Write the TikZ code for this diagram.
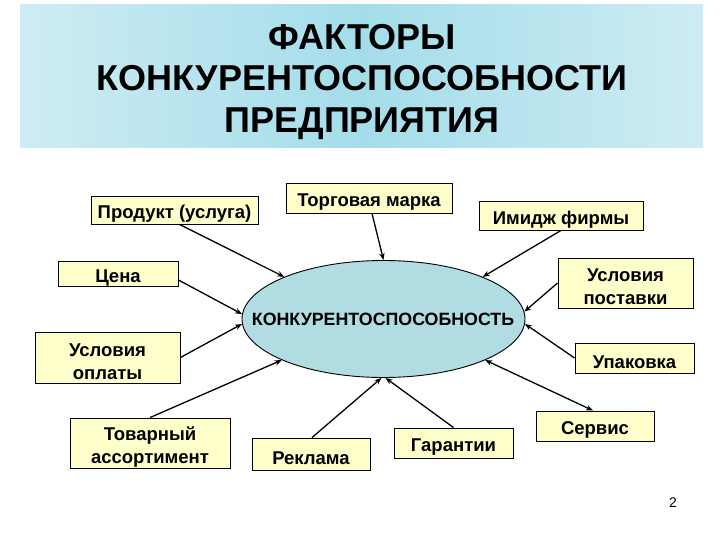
\documentclass[tikz,border=0pt]{standalone}
\usepackage{fontspec}
\setmainfont{Liberation Sans}
\usetikzlibrary{arrows.meta,calc,shapes.geometric}
\definecolor{boxfill}{RGB}{255,255,204}
\definecolor{ellfill}{RGB}{176,220,226}
\definecolor{bandedge}{RGB}{206,236,243}
\definecolor{bandmid}{RGB}{164,221,234}
\newcommand\fsp{\rule{0pt}{21pt}}
\begin{document}
\begin{tikzpicture}[x=1pt,y=-1pt,
  factor/.style={draw=black,line width=0.9pt,fill=boxfill,inner sep=0pt,
    align=center,font=\fontsize{18.5}{23}\selectfont\bfseries},
  link/.style={line width=1.3pt,-{Stealth[length=7pt,width=5.5pt]}},
  dlink/.style={line width=1.3pt,{Stealth[length=7pt,width=5.5pt]}-{Stealth[length=7pt,width=5.5pt]}}]
\useasboundingbox (0,0) rectangle (720,540);
\fill[white] (0,0) rectangle (720,540);
% title band
\node[minimum width=683pt,minimum height=143pt,inner sep=0pt,
  left color=bandedge,right color=bandedge,middle color=bandmid] (band) at (361.5,76.5) {};
\node[align=center,font=\fontsize{36}{41.5}\selectfont\bfseries] (title) at (362,82)
  {ФАКТОРЫ\\КОНКУРЕНТОСПОСОБНОСТИ\\ПРЕДПРИЯТИЯ};
% central ellipse
\node[ellipse,draw=black,line width=0.9pt,fill=ellfill,minimum width=283pt,minimum height=117pt,
  inner sep=0pt] (ell) at (383.5,319) {};
\node[font=\fontsize{17.8}{22}\selectfont\bfseries] (elltext) at (383,319.5) {КОНКУРЕНТОСПОСОБНОСТЬ};
% factors
\node[factor,minimum width=167pt,minimum height=28pt] (prod) at (174.5,210) {\fsp Продукт (услуга)};
\node[factor,minimum width=166pt,minimum height=30pt] (tm) at (369,198) {\fsp Торговая марка};
\node[factor,minimum width=164pt,minimum height=29pt] (img) at (561,215.5) {\fsp Имидж фирмы};
\node[factor,minimum width=135pt,minimum height=50pt] (usp) at (625.5,283) {\fsp Условия\\поставки};
\node[factor,minimum width=120pt,minimum height=22pt] (cena) at (118,274) {\fsp Цена};
\node[factor,minimum width=145pt,minimum height=51pt] (uopl) at (107.5,357.5) {\fsp Условия\\оплаты};
\node[factor,minimum width=160pt,minimum height=50pt] (tov) at (150,443) {\fsp Товарный\\ассортимент};
\node[factor,minimum width=118pt,minimum height=32pt] (rekl) at (311,454) {\fsp Реклама};
\node[factor,minimum width=119pt,minimum height=30pt] (gar) at (453.5,443) {\fsp Гарантии};
\node[factor,minimum width=118pt,minimum height=30pt] (serv) at (595,426) {\fsp Сервис};
\node[factor,minimum width=119pt,minimum height=30pt] (upak) at (634.5,358) {\fsp Упаковка};
% connectors
\draw[link] ($(prod.south)+(5,0)$) -- (ell.157);
\draw[link] ($(tm.south)+(3,0)$) -- (ell.90);
\draw[link] (img.south) -- (ell.23);
\draw[link] (usp.west) -- (ell.3);
\draw[link] (upak.west) -- (ell.-2);
\draw[link] ($(cena.east)+(0,6)$) -- (ell.178);
\draw[link] (uopl.east) -- (ell.182);
\draw[link] (tov.north) -- (ell.202);
\draw[link] ($(rekl.north)+(1,0)$) -- (ell.268);
\draw[link] (gar.north) -- (ell.272);
\draw[dlink] (ell.-22) -- ($(serv.north)+(-2,0)$);
% page number
\node[font=\fontsize{14}{16}\selectfont] (pg) at (673,503) {2};
\end{tikzpicture}
\end{document}
